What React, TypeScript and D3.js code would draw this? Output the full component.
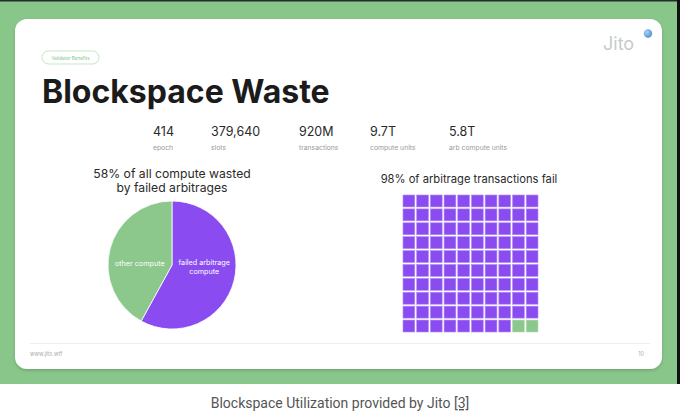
import { arc, pie, range, scaleBand, scaleOrdinal } from "d3";

// headline numbers
const statValues = ["414", "379,640", "920M", "9.7T", "5.8T"];
const statLabels = ["epoch", "slots", "transactions", "compute units", "arb compute units"];

// pie: share of compute
const pieCategories = ["failed arbitrage compute", "other compute"];
const pieValues = [58, 42];

// waffle: arbitrage transactions out of 100
const waffleCategories = ["failed", "succeeded"];
const waffleCounts = [98, 2];

const PURPLE = "#8a4cf1";
const GREEN = "#8cc78b";
const FONT = "Inter, 'Noto Sans', sans-serif";

export default function App() {
  const W = 680;
  const H = 414;

  // stats columns
  const statX = scaleOrdinal<string, number>()
    .domain(statLabels)
    .range([153, 211, 299, 370, 449]);

  // pie
  const cx = 172;
  const cy = 265;
  const r = 64;
  const color = scaleOrdinal<string, string>().domain(pieCategories).range([PURPLE, GREEN]);
  const slices = pie<number>().sort(null)(pieValues);
  const arcGen = arc<any>().innerRadius(0).outerRadius(r);
  const labelArc = arc<any>().innerRadius(r * 0.52).outerRadius(r * 0.52);

  // waffle
  const cells = range(100);
  const x = scaleBand<number>().domain(range(10)).range([403, 538]).paddingInner(0.14);
  const y = scaleBand<number>().domain(range(10)).range([195, 332]).paddingInner(0.14);
  const wColor = scaleOrdinal<string, string>().domain(waffleCategories).range([PURPLE, GREEN]);
  const catOf = (i: number) => (i < waffleCounts[0] ? waffleCategories[0] : waffleCategories[1]);

  return (
    <svg
      width={W}
      height={H}
      style={{ position: "absolute", left: 0, top: 0, background: "#fff" }}
    >
      <defs>
        <filter id="shadow" x="-5%" y="-5%" width="110%" height="115%">
          <feDropShadow dx="0" dy="1.5" stdDeviation="1.5" floodColor="#000" floodOpacity="0.18" />
        </filter>
        <radialGradient id="dot" cx="35%" cy="35%" r="70%">
          <stop offset="0%" stopColor="#a9d3f5" />
          <stop offset="100%" stopColor="#4f8fcf" />
        </radialGradient>
      </defs>

      {/* green backdrop */}
      <rect x={0} y={0} width={677} height={384} fill="#89c68a" />
      <rect x={0} y={0} width={680} height={1.5} fill="#2a2a2a" />
      <rect x={677} y={0} width={3} height={384} fill="#111" />

      {/* slide card */}
      <rect x={15} y={19} width={647} height={350} rx={12} fill="#fff" filter="url(#shadow)" />

      {/* pill */}
      <rect x={42} y={51} width={57} height={13} rx={6.5} fill="#fff" stroke="#b9dfb9" strokeWidth={0.8} />
      <text x={70.5} y={59.5} textAnchor="middle" fontFamily={FONT} fontSize={4.6} fill="#7cbf7c">
        Validator Benefits
      </text>

      {/* Jito logo */}
      <text x={603} y={50} fontFamily={FONT} fontSize={18} fill="#c6ccc9">
        Jito
      </text>
      <circle cx={648} cy={33.5} r={4.2} fill="url(#dot)" />

      {/* title */}
      <text x={42} y={103} fontFamily={FONT} fontWeight={700} fontSize={32} fill="#1b1b1b">
        Blockspace Waste
      </text>

      {/* stats */}
      {statLabels.map((lab, i) => (
        <g key={lab}>
          <text x={statX(lab)} y={136} fontFamily={FONT} fontSize={12.5} fill="#2a2a2a">
            {statValues[i]}
          </text>
          <text x={statX(lab)} y={149.5} fontFamily={FONT} fontSize={6.8} fill="#9a9a9a">
            {lab}
          </text>
        </g>
      ))}

      {/* pie title */}
      <text x={cx} y={177.5} textAnchor="middle" fontFamily={FONT} fontSize={12.2} fill="#2a2a2a">
        <tspan x={cx}>58% of all compute wasted</tspan>
        <tspan x={cx} dy={14.5}>by failed arbitrages</tspan>
      </text>

      <g transform={`translate(${cx},${cy})`}>
        {slices.map((s, i) => (
          <path key={i} d={arcGen(s) || ""} fill={color(pieCategories[i])} stroke="#fff" strokeWidth={0.8} />
        ))}
        {slices.map((s, i) => {
          const [lx, ly] = labelArc.centroid(s);
          const words = i === 0 ? ["failed arbitrage", "compute"] : ["other compute"];
          const yy = ly * 0.2 - (words.length - 1) * 4.5 + 2.5;
          return (
            <text key={"l" + i} x={lx} y={yy} textAnchor="middle" fontFamily={FONT} fontSize={7.2} fill="#fff">
              {words.map((w, j) => (
                <tspan key={j} x={lx} dy={j === 0 ? 0 : 9.5}>
                  {w}
                </tspan>
              ))}
            </text>
          );
        })}
      </g>

      {/* waffle title */}
      <text x={469} y={182.5} textAnchor="middle" fontFamily={FONT} fontSize={11.2} fill="#2a2a2a">
        98% of arbitrage transactions fail
      </text>

      {cells.map((i) => (
        <rect
          key={i}
          x={x(i % 10)}
          y={y(Math.floor(i / 10))}
          width={x.bandwidth()}
          height={y.bandwidth()}
          fill={wColor(catOf(i))}
          stroke={catOf(i) === waffleCategories[0] ? "#b28af5" : "#b5dcb4"}
          strokeWidth={0.6}
        />
      ))}

      {/* footer */}
      <line x1={30} x2={650} y1={343.5} y2={343.5} stroke="#eeeeee" strokeWidth={1} />
      <text x={30} y={356} fontFamily={FONT} fontSize={5.5} fill="#aaa">
        www.jito.wtf
      </text>
      <text x={644} y={356} textAnchor="end" fontFamily={FONT} fontSize={5.5} fill="#aaa">
        10
      </text>

      {/* caption */}
      <text x={340} y={408} textAnchor="middle" fontFamily="Roboto, 'Liberation Sans', sans-serif" fontSize={14} fill="#555">
        Blockspace Utilization provided by Jito{" "}
        <tspan textDecoration="underline">[3]</tspan>
      </text>
    </svg>
  );
}
